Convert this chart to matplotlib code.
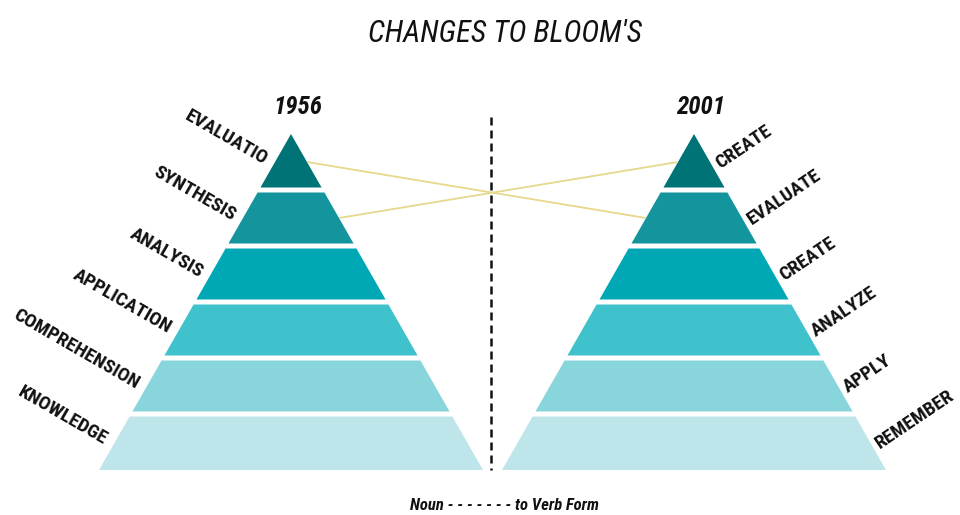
import numpy as np
import matplotlib.pyplot as plt
from matplotlib.patches import Polygon

# Рівні таксономії (знизу вгору), як на картинці
levels_1956 = ['KNOWLEDGE', 'COMPREHENSION', 'APPLICATION', 'ANALYSIS', 'SYNTHESIS', 'EVALUATIO']
levels_2001 = ['REMEMBER', 'APPLY', 'ANALYZE', 'CREATE', 'EVALUATE', 'CREATE']
years = ['1956', '2001']
band_colors = ['#bee5ea', '#88d5dc', '#3fc2cb', '#00a7b5', '#14959d', '#007377']
# зв'язки: (рівень 1956, рівень 2001)
links = [(5, 4), (4, 5)]

title = "CHANGES TO BLOOM'S"
caption = 'Noun - - - - - - - to Verb Form'

# геометрія (пікселі)
centers = [291, 694]
apex_y, base_y, half_base = 134, 470, 192
gap = 5
n = len(levels_1956)
h = (base_y - apex_y) / n

plt.rcParams['font.family'] = ['Roboto Condensed', 'Roboto', 'DejaVu Sans']

fig = plt.figure(figsize=(9.6, 5.15), dpi=100)
ax = fig.add_axes([0, 0, 1, 1])
ax.set_xlim(0, 960)
ax.set_ylim(515, 0)
ax.axis('off')


def half_w(y):
    return half_base * (y - apex_y) / (base_y - apex_y)


def band_mid(i):
    # i = 0 -- нижній рівень
    return base_y - (i + 0.5) * h


for p, (cx, labels) in enumerate(zip(centers, [levels_1956, levels_2001])):
    for i, lab in enumerate(labels):
        y_bot = base_y - i * h - (gap / 2 if i > 0 else 0)
        y_top = base_y - (i + 1) * h + (gap / 2 if i < n - 1 else 0)
        if i == n - 1:
            y_top = apex_y
        pts = [(cx - half_w(y_bot), y_bot), (cx + half_w(y_bot), y_bot),
               (cx + half_w(y_top), y_top), (cx - half_w(y_top), y_top)]
        ax.add_patch(Polygon(pts, closed=True, fc=band_colors[i], ec='none'))
        ym = band_mid(i)
        if p == 0:
            ax.text(cx - half_w(ym) - 9, ym - 1, lab, rotation=-30, rotation_mode='anchor',
                    ha='right', va='center', fontsize=14, fontweight='bold', color='#111111')
        else:
            ax.text(cx + half_w(ym) + 7, ym + 3, lab, rotation=34, rotation_mode='anchor',
                    ha='left', va='center', fontsize=14, fontweight='bold', color='#111111')
    ax.text(cx + 7, apex_y - 27, years[p], ha='center', va='center', fontsize=18,
            fontweight='bold', fontstyle='italic', color='#111111')

# жовті лінії
for a, b in links:
    ya, yb = band_mid(a), band_mid(b)
    ax.plot([centers[0] + half_w(ya), centers[1] - half_w(yb)], [ya, yb],
            color='#e6d88a', lw=1.3, solid_capstyle='butt')

# вертикальний пунктир
ax.plot([491, 491], [117, 470], color='#111111', lw=1.8, linestyle=(0, (3.2, 2.0)))

ax.text(505, 33, title, ha='center', va='center', fontsize=22, fontstyle='italic', color='#111111')
ax.text(505, 505, caption, ha='center', va='center', fontsize=12, fontweight='bold',
        fontstyle='italic', color='#111111')

fig.savefig('out.png', dpi=100)
